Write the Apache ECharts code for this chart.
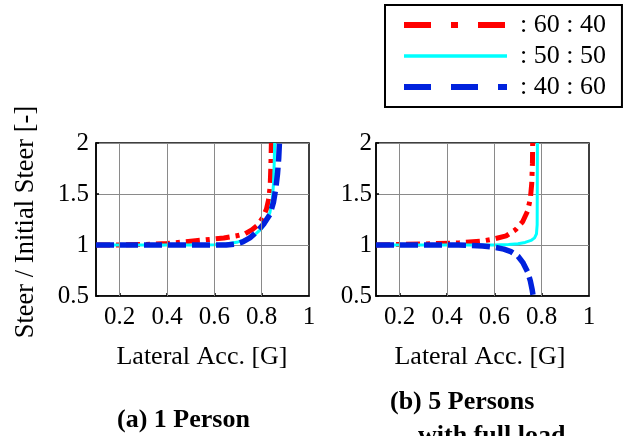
<!DOCTYPE html>
<html><head><meta charset="utf-8">
<script src="https://cdn.jsdelivr.net/npm/echarts@6/dist/echarts.min.js"></script>
<style>html,body{margin:0;padding:0;background:#fff}#c{width:624px;height:436px}</style>
</head><body><div id="c"></div>
<script>
// ---- data ----
const seriesNames = [': 60 : 40', ': 50 : 50', ': 40 : 60'];
const xTickValues = [0.2, 0.4, 0.6, 0.8, 1];
const xGridValues = [0.2, 0.4, 0.6, 0.8];
const yTickValues = [0.5, 1, 1.5, 2];

// (a) 1 Person
const aRedX  = [0.1, 0.2, 0.3, 0.4, 0.46, 0.52, 0.58, 0.64, 0.69, 0.73, 0.76, 0.785, 0.805, 0.82, 0.83, 0.836, 0.839, 0.841];
const aRedY  = [1.0, 1.0, 1.005, 1.015, 1.028, 1.042, 1.055, 1.068, 1.088, 1.11, 1.15, 1.2, 1.27, 1.35, 1.45, 1.58, 1.78, 2.0];
const aCyanX = [0.1, 0.3, 0.5, 0.6, 0.65, 0.7, 0.74, 0.77, 0.8, 0.82, 0.835, 0.845, 0.85, 0.853, 0.855];
const aCyanY = [1.0, 1.0, 1.0, 1.003, 1.01, 1.03, 1.06, 1.1, 1.16, 1.23, 1.32, 1.45, 1.6, 1.8, 2.0];
const aBlueX = [0.1, 0.3, 0.5, 0.65, 0.69, 0.72, 0.75, 0.78, 0.81, 0.835, 0.85, 0.86, 0.867, 0.872, 0.875];
const aBlueY = [1.0, 1.0, 1.0, 1.0, 1.01, 1.03, 1.07, 1.13, 1.21, 1.3, 1.42, 1.56, 1.7, 1.85, 2.0];

// (b) 5 Persons with full load
const bRedX  = [0.1, 0.3, 0.45, 0.55, 0.6, 0.65, 0.69, 0.72, 0.74, 0.752, 0.758, 0.761, 0.762];
const bRedY  = [1.0, 1.01, 1.02, 1.04, 1.06, 1.09, 1.15, 1.23, 1.33, 1.45, 1.6, 1.8, 2.0];
const bCyanX = [0.1, 0.4, 0.6, 0.66, 0.7, 0.73, 0.755, 0.77, 0.778, 0.781, 0.782];
const bCyanY = [1.0, 1.0, 1.0, 1.005, 1.012, 1.025, 1.045, 1.07, 1.11, 1.2, 2.0];
const bBlueX = [0.1, 0.45, 0.5, 0.55, 0.6, 0.64, 0.67, 0.7, 0.72, 0.74, 0.752, 0.76, 0.764];
const bBlueY = [1.0, 1.0, 0.997, 0.99, 0.978, 0.96, 0.935, 0.89, 0.83, 0.74, 0.65, 0.56, 0.5];

// ---- chart ----
const FONT = "'Liberation Serif','Times New Roman',serif";
const zip = (xs, ys) => xs.map((x, i) => [x, ys[i]]);
const styles = [
  {color: '#ff0000', width: 5, type: [14, 6, 4, 6]},
  {color: '#00ffff', width: 3, type: 'solid'},
  {color: '#0022dd', width: 5.5, type: [18, 6]}
];
const legendStyles = [
  {color: '#ff0000', width: 6, type: [27, 20, 7, 20]},
  {color: '#00ffff', width: 3.5, type: 'solid'},
  {color: '#0022dd', width: 6, type: [27, 20]}
];
const panels = [
  [zip(aRedX, aRedY), zip(aCyanX, aCyanY), zip(aBlueX, aBlueY)],
  [zip(bRedX, bRedY), zip(bCyanX, bCyanY), zip(bBlueX, bBlueY)]
];
const gridLefts = [96, 376];

const grids = gridLefts.map(l => ({left: l, top: 143, width: 213, height: 153, show: true, borderColor: '#000', borderWidth: 1.5, containLabel: false}));
const xAxes = gridLefts.map((l, i) => ({
  type: 'value', gridIndex: i, min: 0.1, max: 1, interval: 0.1,
  axisLine: {show: true, lineStyle: {color: '#000', width: 1.5}},
  axisTick: {show: true, inside: true, length: 3, customValues: xGridValues, lineStyle: {color: '#000', width: 1.5}},
  splitLine: {show: false},
  axisLabel: {
    customValues: xTickValues, margin: 9, color: '#000', fontFamily: FONT, fontSize: 25,
    formatter: v => { const r = Math.round(v * 10); if (r % 2) return ''; return r === 10 ? '1' : (r / 10).toFixed(1); }
  }
}));
const yAxes = gridLefts.map((l, i) => ({
  type: 'value', gridIndex: i, min: 0.5, max: 2, interval: 0.5,
  axisLine: {show: true, lineStyle: {color: '#000', width: 1.5}},
  axisTick: {show: true, inside: true, length: 3, lineStyle: {color: '#000', width: 1.5}},
  splitLine: {show: true, lineStyle: {color: '#8a8a8a', width: 1}},
  axisLabel: {margin: i === 0 ? 7 : 4, color: '#000', fontFamily: FONT, fontSize: 25, formatter: v => String(v)}
}));

const series = [];
panels.forEach((p, gi) => {
  series.push({
    type: 'line', xAxisIndex: gi, yAxisIndex: gi, data: [[0.1, 1]], symbol: 'none', silent: true,
    lineStyle: {opacity: 0}, z: 1,
    markLine: {symbol: 'none', silent: true, label: {show: false}, animation: false,
      lineStyle: {color: '#8a8a8a', width: 1, type: 'solid'},
      data: xGridValues.map(v => ({xAxis: v}))}
  });
  p.forEach((d, si) => {
    series.push({
      name: seriesNames[si], type: 'line', xAxisIndex: gi, yAxisIndex: gi, data: d,
      symbol: 'none', smooth: false, z: 2 + si, lineStyle: styles[si], color: styles[si].color
    });
  });
});

const chart = echarts.init(document.getElementById('c'), null, {renderer: 'canvas'});
chart.setOption({
  animation: false,
  backgroundColor: '#fff',
  grid: grids, xAxis: xAxes, yAxis: yAxes, series,
  legend: {
    orient: 'vertical', left: 385, top: 5, padding: [7, 16, 7, 16], itemGap: 5,
    itemWidth: 103, itemHeight: 20, borderColor: '#000', borderWidth: 2,
    itemStyle: {opacity: 0},
    textStyle: {fontFamily: FONT, fontSize: 26, color: '#000', padding: [0, 0, 0, 8]},
    data: seriesNames.map((n, i) => ({name: n, lineStyle: legendStyles[i], itemStyle: {opacity: 0}}))
  },
  graphic: [
    {type: 'text', x: 26, y: 222, rotation: Math.PI / 2, style: {text: 'Steer / Initial Steer [-]', font: '26.5px ' + FONT, fill: '#000', align: 'center', verticalAlign: 'middle'}},
    {type: 'text', x: 202, y: 357, style: {text: 'Lateral Acc. [G]', font: '26px ' + FONT, fill: '#000', align: 'center', verticalAlign: 'middle'}},
    {type: 'text', x: 480, y: 357, style: {text: 'Lateral Acc. [G]', font: '26px ' + FONT, fill: '#000', align: 'center', verticalAlign: 'middle'}},
    {type: 'text', x: 117, y: 420, style: {text: '(a) 1 Person', font: 'bold 26px ' + FONT, fill: '#000', align: 'left', verticalAlign: 'middle'}},
    {type: 'text', x: 390, y: 402, style: {text: '(b) 5 Persons', font: 'bold 26px ' + FONT, fill: '#000', align: 'left', verticalAlign: 'middle'}},
    {type: 'text', x: 418, y: 436, style: {text: 'with full load', font: 'bold 26px ' + FONT, fill: '#000', align: 'left', verticalAlign: 'middle'}}
  ]
});
</script></body></html>
